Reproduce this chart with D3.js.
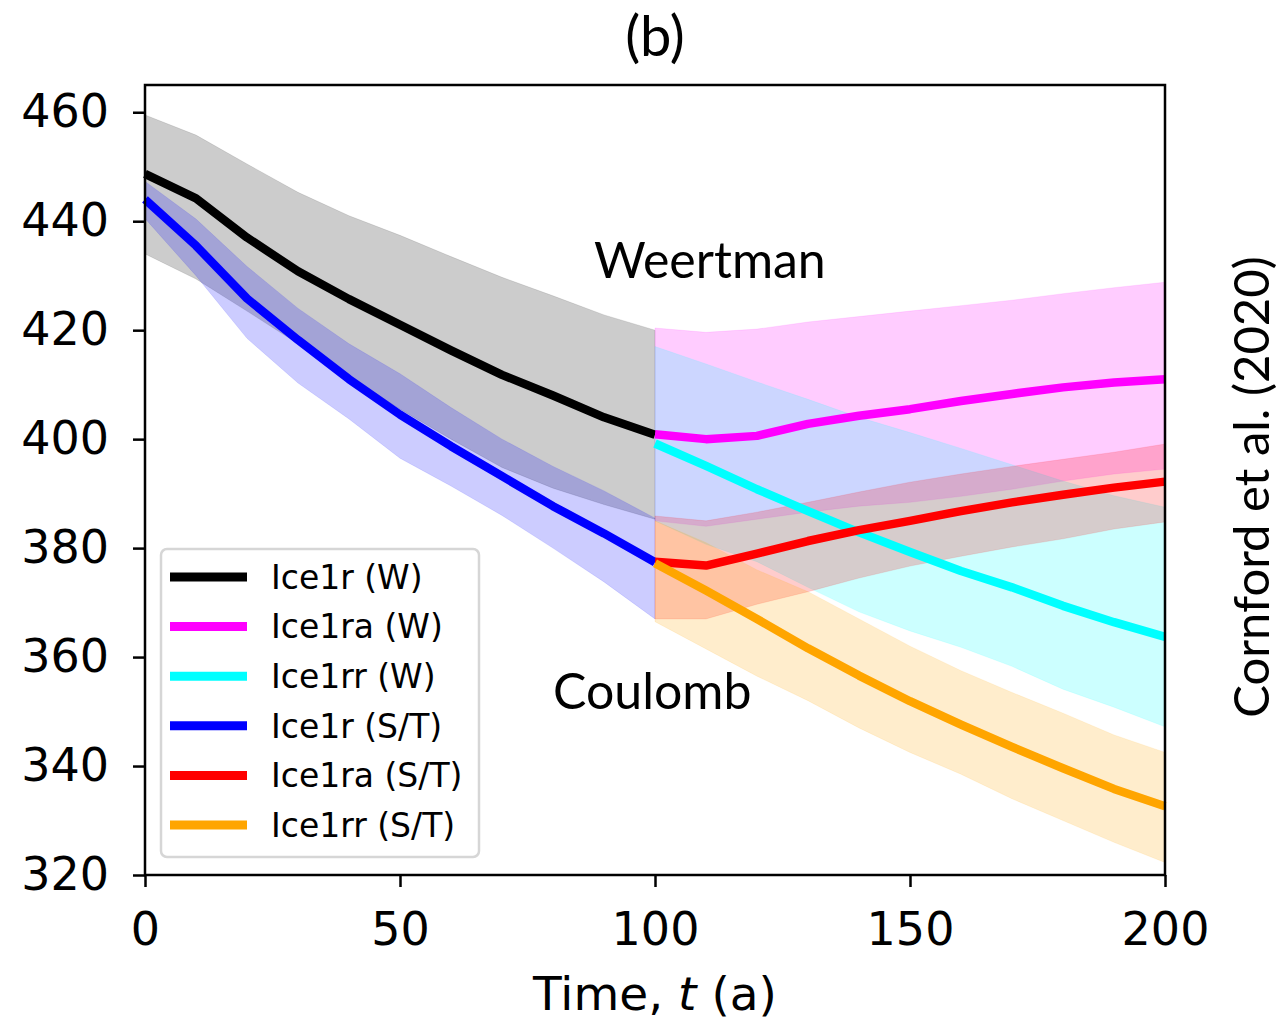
<!DOCTYPE html>
<html>
<head>
<meta charset="utf-8">
<script src="https://cdn.jsdelivr.net/npm/d3@7"></script>
<style>
  body { margin: 0; background: #fff; }
  .tick text { font-family: "DejaVu Sans", sans-serif; font-size: 46px; fill: #000; }
  .tick line { stroke: #000; stroke-width: 2.5px; }
  .domain { display: none; }
  .note { font-family: Lato, "Open Sans", sans-serif; fill: #000; }
  .leg text { font-family: "DejaVu Sans", sans-serif; font-size: 33px; fill: #000; }
</style>
</head>
<body>
<script>
// time steps: first century, then the three perturbation runs
var tPre = [0, 10, 20, 30, 40, 50, 60, 70, 80, 90, 100];
var tPost = [100, 110, 120, 130, 140, 150, 160, 170, 180, 190, 200];

// Ice1r (W) mean and spread
var ice1rW   = [448.7, 444.2, 437, 430.8, 425.7, 421, 416.3, 411.8, 408, 404, 400.8];
var ice1rWHi = [459.5, 455.8, 450.5, 445.3, 441, 437.4, 433.5, 429.7, 426.3, 422.8, 420];
var ice1rWLo = [434, 429.4, 423.5, 417.5, 411.5, 405.5, 400, 394.8, 391, 388, 385.3];

// Ice1r (S/T)
var ice1rST   = [444, 435.5, 425.8, 418.2, 411, 404.5, 398.7, 393.2, 387.7, 382.7, 377.4];
var ice1rSTHi = [447.3, 440.4, 431.7, 424, 417.5, 412, 405.8, 400, 395, 390.5, 385.5];
var ice1rSTLo = [440.5, 430, 418.5, 410.3, 403.7, 396.5, 391.4, 386, 380, 373.8, 367];

// Ice1ra (W)
var ice1raW   = [400.9, 400, 400.6, 402.8, 404.3, 405.5, 407, 408.3, 409.5, 410.4, 411];
var ice1raWHi = [420.4, 419.6, 420.2, 421.5, 422.5, 423.5, 424.5, 425.5, 426.7, 427.8, 428.8];
var ice1raWLo = [385, 384, 385.3, 386.6, 387.7, 388.4, 389.5, 390.8, 392.3, 393.6, 394.5];

// Ice1rr (W)
var ice1rrW   = [399.2, 395.1, 390.8, 386.8, 382.9, 379.3, 375.8, 372.8, 369.4, 366.4, 363.7];
var ice1rrWHi = [417, 413.8, 410.5, 407.3, 404, 401.2, 398.3, 395.3, 392.3, 389.6, 387.5];
var ice1rrWLo = [385, 380.7, 377.5, 372.8, 368.3, 364.8, 361.8, 358.3, 354.1, 350.8, 347.2];

// Ice1ra (S/T)
var ice1raST   = [377.5, 376.8, 379, 381.3, 383.3, 385, 386.8, 388.4, 389.8, 391.1, 392.2];
var ice1raSTHi = [385.9, 385, 386.6, 388.4, 390.3, 392.1, 393.6, 395, 396.3, 397.6, 399.1];
var ice1raSTLo = [367, 367, 369.7, 372, 374.5, 376.7, 378.5, 380.2, 381.7, 383.5, 384.8];

// Ice1rr (S/T)
var ice1rrST   = [377.2, 372.2, 367, 361.6, 356.6, 351.9, 347.6, 343.5, 339.6, 335.8, 332.6];
var ice1rrSTHi = [385, 381, 376, 372, 367, 362, 357.5, 353.5, 349.7, 345.7, 342.5];
var ice1rrSTLo = [366.5, 361.5, 356.5, 352, 347, 342.5, 338.5, 334, 330, 326, 322.3];

var xTicks = [0, 50, 100, 150, 200];
var yTicks = [320, 340, 360, 380, 400, 420, 440, 460];

var series = [
  { name: "Ice1r (W)",    color: "#000000", t: tPre,  v: ice1rW,   hi: ice1rWHi,   lo: ice1rWLo },
  { name: "Ice1ra (W)",   color: "#ff00ff", t: tPost, v: ice1raW,  hi: ice1raWHi,  lo: ice1raWLo },
  { name: "Ice1rr (W)",   color: "#00ffff", t: tPost, v: ice1rrW,  hi: ice1rrWHi,  lo: ice1rrWLo },
  { name: "Ice1r (S/T)",  color: "#0000ff", t: tPre,  v: ice1rST,  hi: ice1rSTHi,  lo: ice1rSTLo },
  { name: "Ice1ra (S/T)", color: "#ff0000", t: tPost, v: ice1raST, hi: ice1raSTHi, lo: ice1raSTLo },
  { name: "Ice1rr (S/T)", color: "#ffa500", t: tPost, v: ice1rrST, hi: ice1rrSTHi, lo: ice1rrSTLo }
];

var W = 1281, H = 1023;
var axL = 145, axR = 1165, axT = 85, axB = 875;

var x = d3.scaleLinear().domain([0, 200]).range([axL, axR]);
var y = d3.scaleLinear().domain([320, 465]).range([axB, axT]);

var svg = d3.select("body").append("svg")
  .attr("width", W).attr("height", H);

var plot = svg.append("g");

// shaded spread first, lines on top
var area = d3.area()
  .x(function(d) { return x(d.t); })
  .y0(function(d) { return y(d.lo); })
  .y1(function(d) { return y(d.hi); });

var line = d3.line()
  .x(function(d) { return x(d.t); })
  .y(function(d) { return y(d.v); });

function rows(s) {
  return s.t.map(function(t, i) { return { t: t, v: s.v[i], hi: s.hi[i], lo: s.lo[i] }; });
}

series.forEach(function(s) {
  plot.append("path")
    .datum(rows(s))
    .attr("d", area)
    .attr("fill", s.color)
    .attr("fill-opacity", 0.2)
    .attr("stroke", s.color)
    .attr("stroke-opacity", 0.15)
    .attr("stroke-width", 0.7);
});

series.forEach(function(s) {
  plot.append("path")
    .datum(rows(s))
    .attr("d", line)
    .attr("fill", "none")
    .attr("stroke", s.color)
    .attr("stroke-width", 8.5)
    .attr("stroke-linejoin", "round");
});

// axes
svg.append("g")
  .attr("transform", "translate(0," + axB + ")")
  .call(d3.axisBottom(x).tickValues(xTicks).tickSize(12).tickPadding(25).tickFormat(d3.format("d")));

svg.append("g")
  .attr("transform", "translate(" + axL + ",0)")
  .call(d3.axisLeft(y).tickValues(yTicks).tickSize(12).tickPadding(24).tickFormat(d3.format("d")));

svg.append("rect")
  .attr("x", axL).attr("y", axT)
  .attr("width", axR - axL).attr("height", axB - axT)
  .attr("fill", "none").attr("stroke", "#000").attr("stroke-width", 2.5);

// x label
var xl = svg.append("text")
  .attr("x", (axL + axR) / 2).attr("y", 1010)
  .attr("text-anchor", "middle")
  .style("font-family", "DejaVu Sans, sans-serif").style("font-size", "47px");
xl.append("tspan").text("Time, ");
xl.append("tspan").style("font-style", "italic").text("t");
xl.append("tspan").text(" (a)");

// legend
var leg = svg.append("g").attr("class", "leg");
leg.append("rect")
  .attr("x", 161).attr("y", 549).attr("width", 318).attr("height", 308)
  .attr("rx", 6).attr("fill", "#fff").attr("fill-opacity", 0.8)
  .attr("stroke", "#d6d6d6").attr("stroke-width", 2.5);

series.forEach(function(s, i) {
  var yy = 577 + i * 49.6;
  leg.append("line")
    .attr("x1", 170).attr("x2", 247).attr("y1", yy).attr("y2", yy)
    .attr("stroke", s.color).attr("stroke-width", 9);
  leg.append("text")
    .attr("x", 271).attr("y", yy).attr("dy", "0.36em")
    .text(s.name);
});

// annotations
svg.append("text").attr("class", "note")
  .attr("x", 655).attr("y", 56).attr("text-anchor", "middle")
  .style("font-size", "56px").text("(b)");

svg.append("text").attr("class", "note")
  .attr("x", 594).attr("y", 278)
  .style("font-size", "50px").text("Weertman");

svg.append("text").attr("class", "note")
  .attr("x", 553).attr("y", 709)
  .style("font-size", "50px").text("Coulomb");

svg.append("text").attr("class", "note")
  .attr("transform", "translate(1269,487) rotate(-90)")
  .attr("text-anchor", "middle")
  .style("font-size", "49px").text("Cornford et al. (2020)");
</script>
</body>
</html>
